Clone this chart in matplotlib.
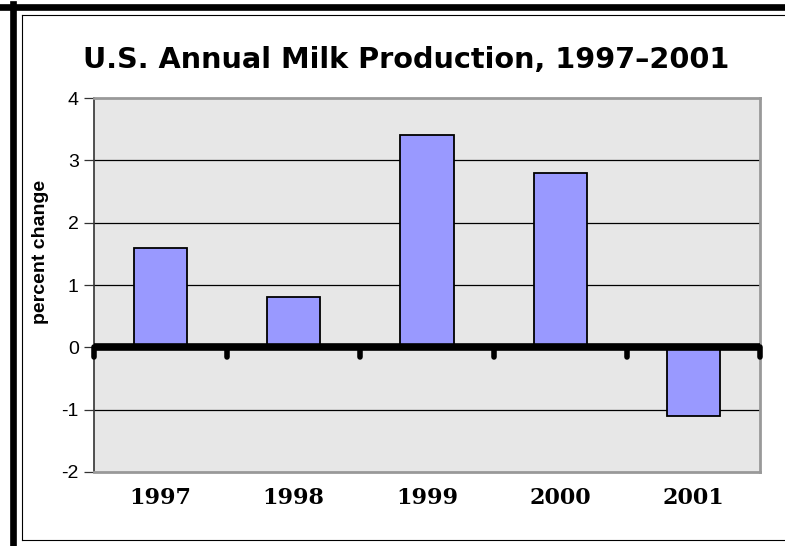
import numpy as np
import matplotlib
matplotlib.use("Agg")
import matplotlib.pyplot as plt
from matplotlib.lines import Line2D

# data
years = ["1997", "1998", "1999", "2000", "2001"]
pct_change = [1.6, 0.8, 3.4, 2.8, -1.1]
y_ticks = [-2, -1, 0, 1, 2, 3, 4]

fig = plt.figure(figsize=(7.85, 5.46), dpi=100)
W, H = 785, 546

# outer frame: thick black band top/left, thin inner rule
fig.add_artist(Line2D([0, 1], [1 - 7 / H, 1 - 7 / H], color="black", lw=4.8))
fig.add_artist(Line2D([13 / W, 13 / W], [0, 1 - 4 / H], color="black", lw=4.8))
fig.add_artist(Line2D([22 / W, 1], [1 - 15 / H, 1 - 15 / H], color="black", lw=0.8))
fig.add_artist(Line2D([22 / W, 22 / W], [1 - 540 / H, 1 - 15 / H], color="black", lw=0.8))
fig.add_artist(Line2D([22 / W, 1], [1 - 540 / H, 1 - 540 / H], color="black", lw=0.8))

ax = fig.add_axes([94 / W, 1 - 472 / H, (760 - 94) / W, (472 - 98) / H])
ax.set_facecolor("#e7e7e7")

x = np.arange(len(years))
ax.set_xlim(-0.5, len(years) - 0.5)
ax.set_ylim(min(y_ticks), max(y_ticks))

for t in y_ticks[1:-1]:
    if t != 0:
        ax.axhline(t, color="black", lw=0.9, zorder=1)

ax.bar(x, pct_change, width=0.4, color="#9999ff", edgecolor="black",
       linewidth=1.3, zorder=2)

# thick zero axis with tick marks at category boundaries
ax.axhline(0, color="black", lw=5.5, zorder=3)
for b in np.arange(len(years) + 1) - 0.5:
    ax.plot([b, b], [0, -0.16], color="black", lw=4, solid_capstyle="round",
            zorder=3, clip_on=False)

ax.set_yticks(y_ticks)
ax.set_yticklabels([str(t) for t in y_ticks], fontsize=14,
                   fontfamily="Liberation Sans")
ax.tick_params(axis="y", length=7, width=0.9, color="#333333", pad=4)
ax.set_xticks(x)
ax.set_xticklabels(years, fontsize=16, fontweight="bold",
                   fontfamily="DejaVu Serif")
ax.tick_params(axis="x", length=0, pad=11)

for side in ["top", "right", "bottom"]:
    ax.spines[side].set_color("#999999")
    ax.spines[side].set_linewidth(2)
ax.spines["left"].set_color("#333333")
ax.spines["left"].set_linewidth(1.2)

ax.set_ylabel("percent change", fontsize=14, fontweight="bold",
              fontfamily="Liberation Sans")
ax.yaxis.set_label_coords((49 - 94) / (760 - 94), (472 - 252) / (472 - 98))

fig.text(406 / W, 1 - 60 / H, "U.S. Annual Milk Production, 1997\u20132001",
         ha="center", va="center", fontsize=20.7, fontweight="bold",
         fontfamily="DejaVu Sans")

fig.savefig("out.png", dpi=100)
